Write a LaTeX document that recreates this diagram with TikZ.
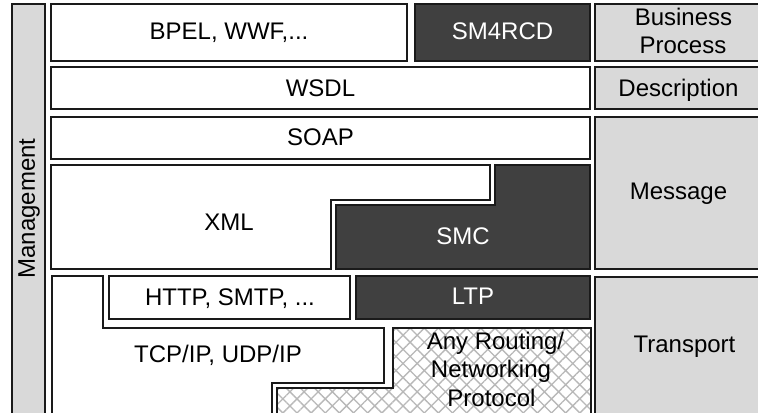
\documentclass[tikz,border=0pt]{standalone}
\usepackage{fontspec}
\setmainfont{Liberation Sans}
\usetikzlibrary{patterns.meta}
\definecolor{layergray}{HTML}{D9D9D9}
\definecolor{darkfill}{HTML}{404040}
\definecolor{hatchgray}{HTML}{B8B8B8}
\definecolor{edge}{HTML}{1A1A1A}
\begin{document}
\begin{tikzpicture}[x=0.75pt,y=-0.75pt,line width=1.1pt,
  whitebox/.style={draw=edge,fill=white},
  darkbox/.style={draw=edge,fill=darkfill},
  sidebox/.style={draw=edge,fill=layergray},
  lbl/.style={font=\fontsize{18}{21}\selectfont,inner sep=0pt,anchor=base},
  wlbl/.style={lbl,text=white}]
\useasboundingbox (0,0) rectangle (758,413);
\clip (0,0) rectangle (758,413);

% management column
\draw[sidebox] (12,4) rectangle (45,430);
\node[lbl,rotate=90] (mgmt) at (35,208.5) {Management};

% business process layer
\draw[whitebox] (51,4) rectangle (407,61);
\draw[darkbox] (415,4) rectangle (590,61);
\draw[sidebox] (595,4) rectangle (768,61);
\node[lbl] (bpel) at (229,40) {BPEL, WWF,...};
\node[wlbl] (sm4rcd) at (502.5,40) {SM4RCD};
\node[lbl] (bp1) at (683.5,26) {Business};
\node[lbl] (bp2) at (683,54) {Process};

% description layer
\draw[whitebox] (51,67) rectangle (590,109);
\draw[sidebox] (595,67) rectangle (768,109);
\node[lbl] (wsdl) at (320.5,96.7) {WSDL};
\node[lbl] (desc) at (678.5,96.7) {Description};

% message layer
\draw[whitebox] (51,117) rectangle (590,159);
\draw[sidebox] (595,117) rectangle (768,269);
\node[lbl] (soap) at (320.5,145.7) {SOAP};
\node[lbl] (msg) at (678.5,200) {Message};
\draw[whitebox] (51,165) -- (490,165) -- (490,200) -- (331,200)
  -- (331,269) -- (51,269) -- cycle;
\draw[darkbox] (495,165) -- (590,165) -- (590,269) -- (336,269)
  -- (336,205) -- (495,205) -- cycle;
\node[lbl] (xml) at (229,230.7) {XML};
\node[wlbl] (smc) at (463,245) {SMC};

% transport layer
\draw[sidebox] (595,277) rectangle (768,430);
\node[lbl] (transport) at (684.5,353) {Transport};
\draw[whitebox] (52,276) -- (103,276) -- (103,328) -- (384,328)
  -- (384,383) -- (272,383) -- (272,430) -- (52,430) -- cycle;
\draw[whitebox] (109,276) rectangle (350,319);
\draw[darkbox] (356,276) rectangle (590,319);
\node[lbl] (http) at (230,306) {HTTP, SMTP, ...};
\node[wlbl] (ltp) at (473,305) {LTP};
\node[lbl] (tcp) at (218,363) {TCP/IP, UDP/IP};

% routing protocols (cross-hatched)
\fill[white] (393,328) -- (591,328) -- (591,430) -- (277,430)
  -- (277,388) -- (393,388) -- cycle;
\fill[pattern={Hatch[angle=45,distance=7.5pt,line width=1pt]},pattern color=hatchgray]
  (393,328) -- (591,328) -- (591,430) -- (277,430)
  -- (277,388) -- (393,388) -- cycle;
\draw[edge] (393,328) -- (591,328) -- (591,430) -- (277,430)
  -- (277,388) -- (393,388) -- cycle;
\node[lbl] (rt1) at (495.5,350) {Any Routing/};
\node[lbl] (rt2) at (491,378) {Networking};
\node[lbl] (rt3) at (491.5,406.7) {Protocol};
\end{tikzpicture}
\end{document}
